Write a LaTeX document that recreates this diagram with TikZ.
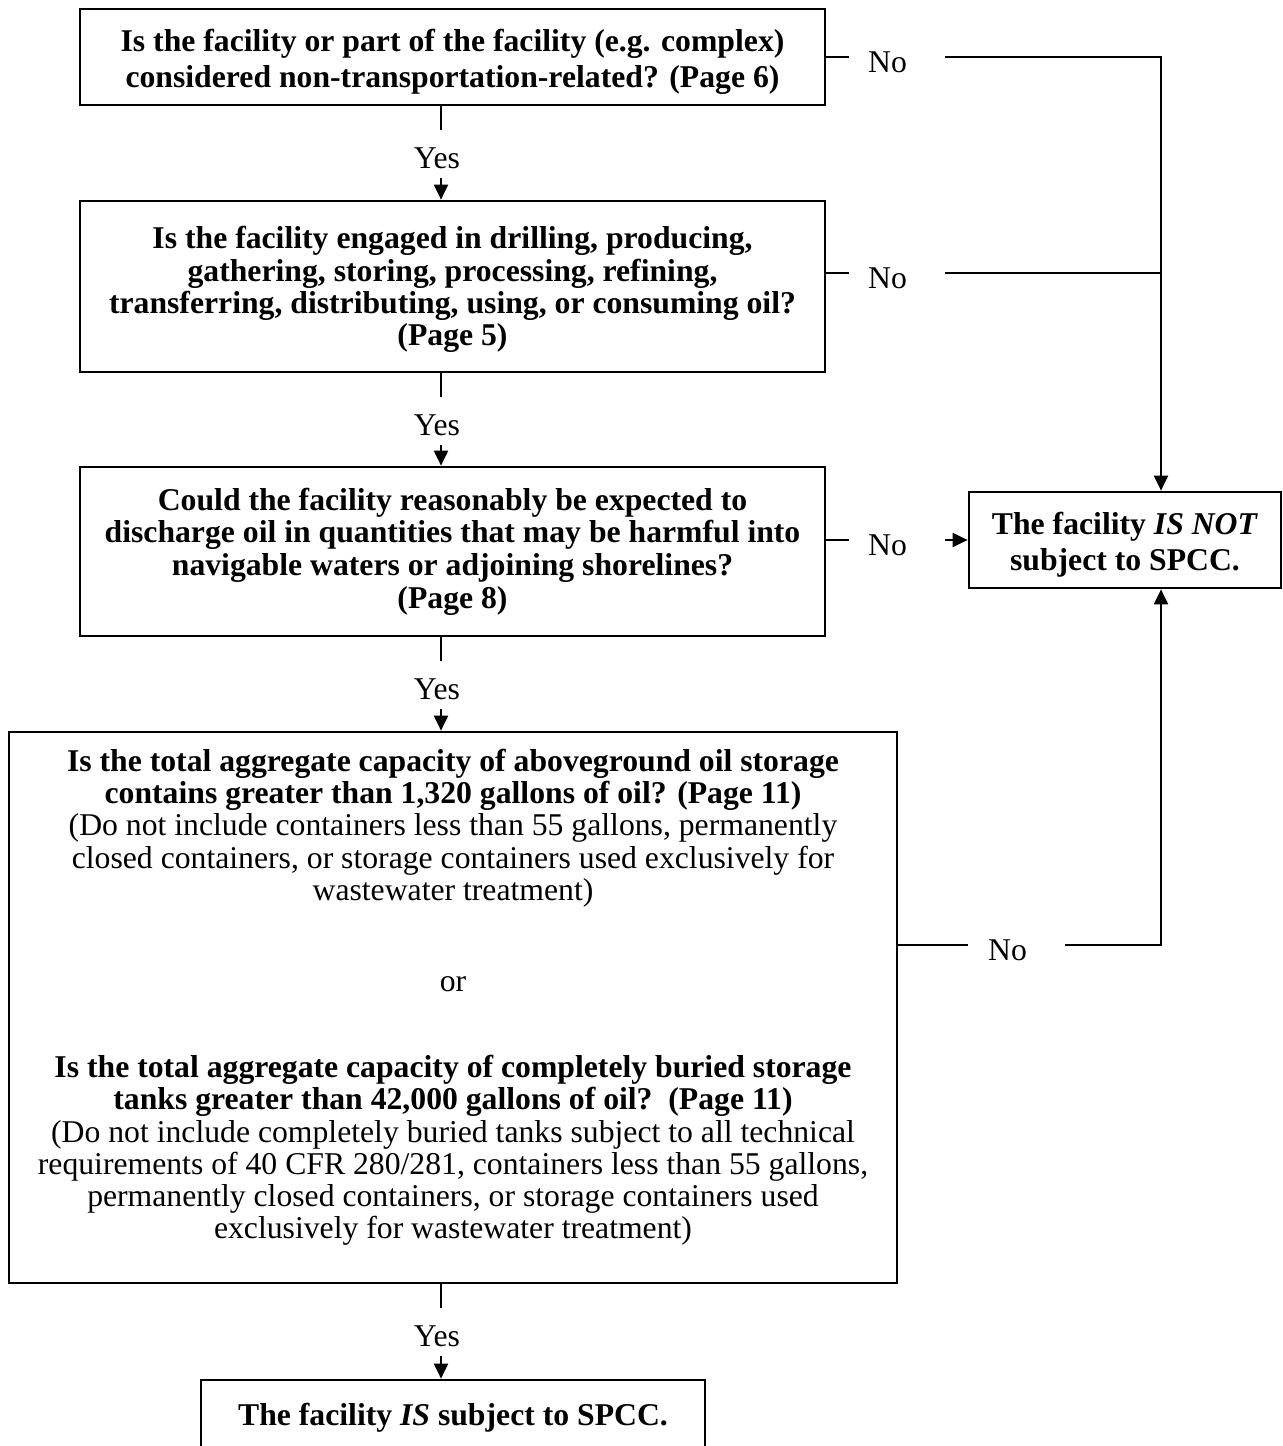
\documentclass[tikz,border=0pt]{standalone}
\usepackage{fontspec}
\setmainfont{Liberation Serif}
\usetikzlibrary{arrows.meta}
\newcommand{\fsz}[1]{\fontsize{15.85pt}{#1}\selectfont}
\newcommand{\upstrut}[1]{\rule{0pt}{#1}}
\newcommand{\dnstrut}[1]{\rule[-#1]{0pt}{#1}}
\begin{document}
\begin{tikzpicture}[x=0.5pt,y=-0.5pt,
  qbox/.style={draw, line width=1.35pt, inner sep=0pt, align=center},
  yeslbl/.style={inner sep=0pt, anchor=base, text height=19pt, text depth=5pt, font=\fsz{16pt}},
  nolbl/.style={inner sep=0pt, text height=15pt, text depth=0pt, font=\fsz{16pt}},
  conn/.style={line width=1pt},
  arr/.style={line width=1pt, -{Triangle[length=7.5pt,width=7pt]}}]
\useasboundingbox (0,0) rectangle (1282,1446);
\clip (0,0) rectangle (1282,1446);

% boxes
\node[qbox, minimum width=745*0.5pt, minimum height=96*0.5pt, font=\fsz{18pt}\bfseries] (b1) at (452.5,57)
  {\upstrut{15.7pt}Is the facility or part of the facility (e.g. complex)\\considered non-transportation-related? (Page 6)};
\node[qbox, minimum width=745*0.5pt, minimum height=171*0.5pt, font=\fsz{16.15pt}\bfseries] (b2) at (452.5,286.5)
  {\upstrut{14.2pt}Is the facility engaged in drilling, producing,\\gathering, storing, processing, refining,\\transferring, distributing, using, or consuming oil?\\(Page 5)};
\node[qbox, minimum width=745*0.5pt, minimum height=169*0.5pt, font=\fsz{16.35pt}\bfseries] (b3) at (452.5,551.5)
  {Could the facility reasonably be expected to\\discharge oil in quantities that may be harmful into\\navigable waters or adjoining shorelines?\\(Page 8)};
\node[qbox, minimum width=888*0.5pt, minimum height=551*0.5pt, font=\fsz{16.1pt}] (b4) at (453,1007.5)
  {\textbf{Is the total aggregate capacity of aboveground oil storage}\\
   \textbf{contains greater than 1,320 gallons of oil? (Page 11)}\\
   (Do not include containers less than 55 gallons, permanently\\
   closed containers, or storage containers used exclusively for\\
   wastewater treatment)\\[29.5pt]
   or\\[27pt]
   \textbf{Is the total aggregate capacity of completely buried storage}\\
   \textbf{tanks greater than 42,000 gallons of oil?\ \ (Page 11)}\\
   (Do not include completely buried tanks subject to all technical\\
   requirements of 40 CFR 280/281, containers less than 55 gallons,\\
   permanently closed containers, or storage containers used\\
   exclusively for wastewater treatment)\dnstrut{13.5pt}};
\node[qbox, minimum width=504*0.5pt, minimum height=70*0.5pt, font=\fsz{18.5pt}\bfseries] (b5) at (453,1415)
  {\upstrut{13.7pt}The facility \textit{IS} subject to SPCC.};
\node[qbox, minimum width=312*0.5pt, minimum height=96*0.5pt, font=\fsz{18pt}\bfseries] (notb) at (1125,540)
  {\upstrut{16.2pt}The facility \textit{IS NOT}\\subject to SPCC.};

% column and rail
\coordinate (col) at (441,0);
\coordinate (rail) at (1161,57);

% Yes labels
\node[yeslbl] (y1) at (437,168) {Yes};
\node[yeslbl] (y2) at (437,435) {Yes};
\node[yeslbl] (y3) at (437,699) {Yes};
\node[yeslbl] (y4) at (437,1346) {Yes};

% No labels
\node[nolbl] (n1) at (887.5,57) {No};
\node[nolbl] (n2) at (887.5,273) {No};
\node[nolbl] (n3) at (887.5,540) {No};
\node[nolbl] (n4) at (1007.5,945) {No};

% Yes connectors
\draw[conn] (b1.south -| col) -- (y1.north -| col);
\draw[arr] (y1.south -| col) -- (b2.north -| col);
\draw[conn] (b2.south -| col) -- (y2.north -| col);
\draw[arr] (y2.south -| col) -- (b3.north -| col);
\draw[conn] (b3.south -| col) -- (y3.north -| col);
\draw[arr] (y3.south -| col) -- (b4.north -| col);
\draw[conn] (b4.south -| col) -- (y4.north -| col);
\draw[arr] (y4.south -| col) -- (b5.north -| col);

% No connectors
\draw[conn] (n1 -| b1.east) -- ([xshift=-9.5pt]n1.west);
\draw[arr] ([xshift=19pt]n1.east) -- (rail) -- (rail |- notb.north);
\draw[conn] (n2 -| b2.east) -- ([xshift=-9.5pt]n2.west);
\draw[conn] ([xshift=19pt]n2.east) -- (n2 -| rail);
\draw[conn] (n3 -| b3.east) -- ([xshift=-9.5pt]n3.west);
\draw[arr] ([xshift=19pt]n3.east) -- (notb.west);
\draw[conn] (n4 -| b4.east) -- ([xshift=-10pt]n4.west);
\draw[arr] ([xshift=19pt]n4.east) -- (n4 -| rail) -- (rail |- notb.south);
\end{tikzpicture}
\end{document}
